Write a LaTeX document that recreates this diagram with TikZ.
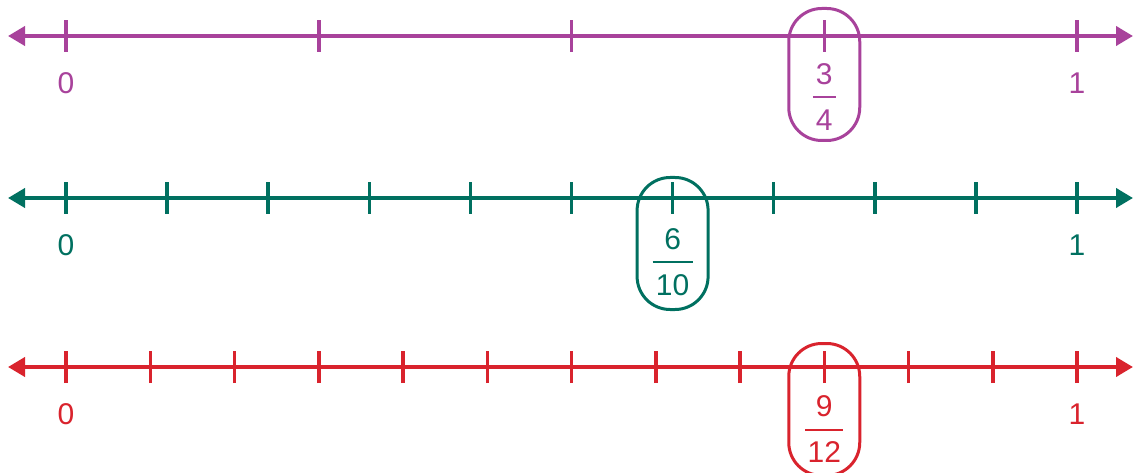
\documentclass[tikz,border=0pt]{standalone}
\usepackage{fontspec}
\setmainfont{Liberation Sans}
\usetikzlibrary{arrows.meta}
\definecolor{numpurple}{RGB}{168,66,155}
\definecolor{numteal}{RGB}{0,112,96}
\definecolor{numred}{RGB}{217,35,45}
\tikzset{
  axis/.style={line width=4pt, {Triangle[length=17pt,width=19pt]}-{Triangle[length=17pt,width=19pt]}},
  tickmark/.style={line width=3.5pt},
  numlabel/.style={font=\fontsize{30}{30}\selectfont, inner sep=0pt},
  fracbar/.style={line width=2pt},
  hilite/.style={draw, line width=3pt, rounded corners=33pt, minimum width=71pt, minimum height=132pt, inner sep=0pt},
}
\newcommand{\fractionaxis}[8]{%
  % #1 name, #2 colour, #3 y position, #4 number of parts, #5 highlighted part,
  % #6 box centre below the axis, #7 extra drop of the fraction, #8 half width of the bar
  \begin{scope}[color=#2]
    \coordinate (#1L) at (8,#3);
    \coordinate (#1R) at (1133,#3);
    \draw[axis] (#1L) -- (#1R);
    \foreach \k in {0,...,#4}{
      \coordinate (#1t\k) at ({66+\k*1011/#4},#3);
      \draw[tickmark] ([yshift=-16pt]#1t\k) -- ([yshift=16pt]#1t\k);
    }
    \node[numlabel] (#1zero) at ([yshift=-47pt]#1t0) {0};
    \node[numlabel] (#1one) at ([yshift=-47pt]#1t#4) {1};
    \node[hilite] (#1box) at ([yshift=-#6pt]#1t#5) {};
    \node[numlabel] (#1num) at ([yshift=-38pt-#7pt]#1t#5) {#5};
    \node[numlabel] (#1den) at ([yshift=-84pt-#7pt]#1t#5) {#4};
    \coordinate (#1barL) at ([xshift=-#8pt,yshift=-61pt-#7pt]#1t#5);
    \coordinate (#1barR) at ([xshift=#8pt,yshift=-61pt-#7pt]#1t#5);
    \draw[fracbar] (#1barL) -- (#1barR);
  \end{scope}
}
\begin{document}
\begin{tikzpicture}[x=1pt,y=-1pt]
  \useasboundingbox (0,0) rectangle (1133,473);
  \fractionaxis{a}{numpurple}{36}{4}{3}{38.5}{0}{11.5}
  \fractionaxis{b}{numteal}{198}{10}{6}{45.5}{3}{20}
  \fractionaxis{c}{numred}{367}{12}{9}{42.5}{1.5}{19}
\end{tikzpicture}
\end{document}
